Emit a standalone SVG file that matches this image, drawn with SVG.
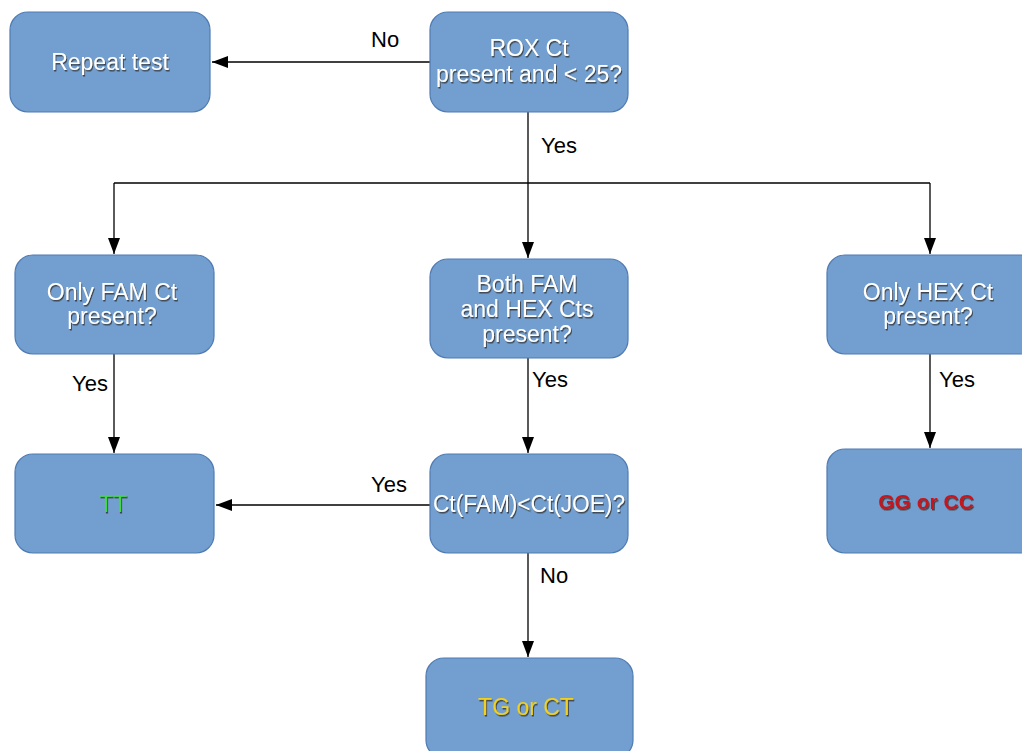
<svg xmlns="http://www.w3.org/2000/svg" width="1022" height="751" viewBox="0 0 1022 751">
<defs>
<marker id="arr" markerWidth="16" markerHeight="12" refX="16" refY="6" orient="auto" markerUnits="userSpaceOnUse">
<path d="M0,0 L16,6 L0,12 Z" fill="#000"/>
</marker>
<filter id="sh" x="-10%" y="-10%" width="120%" height="130%">
<feDropShadow dx="1" dy="1.5" stdDeviation="0.4" flood-color="#333" flood-opacity="0.8"/>
</filter>
</defs>
<style>
.box{fill:#729fcf;stroke:#4f7bb3;stroke-width:1.2}
.t{font-family:"Liberation Sans",Arial,sans-serif;font-size:23px;fill:#fff;text-anchor:middle;filter:url(#sh)}
.lbl{font-family:"Liberation Sans",Arial,sans-serif;font-size:22px;fill:#000}
.c{stroke:#000;stroke-width:1.3;fill:none}
</style>
<rect width="1022" height="751" fill="#fff"/>
<g id="connectors">
<path class="c" d="M430,62 H212" marker-end="url(#arr)"/>
<path class="c" d="M528,112 V183"/>
<path class="c" d="M114,183 H930"/>
<path class="c" d="M114,183 V254" marker-end="url(#arr)"/>
<path class="c" d="M528,183 V258" marker-end="url(#arr)"/>
<path class="c" d="M930,183 V254" marker-end="url(#arr)"/>
<path class="c" d="M114,354 V453" marker-end="url(#arr)"/>
<path class="c" d="M528,358 V453" marker-end="url(#arr)"/>
<path class="c" d="M930,354 V448" marker-end="url(#arr)"/>
<path class="c" d="M430,505 H216" marker-end="url(#arr)"/>
<path class="c" d="M528,553 V657" marker-end="url(#arr)"/>
<text class="lbl" x="371" y="47">No</text>
<text class="lbl" x="541" y="153">Yes</text>
<text class="lbl" x="72" y="391">Yes</text>
<text class="lbl" x="532" y="387">Yes</text>
<text class="lbl" x="939" y="387">Yes</text>
<text class="lbl" x="371" y="492">Yes</text>
<text class="lbl" x="540" y="583">No</text>
</g>
<g id="repeat"><rect class="box" x="10" y="12" width="200" height="100" rx="18"/><text class="t" x="110" y="70">Repeat test</text></g>
<g id="rox"><rect class="box" x="430" y="12" width="198" height="100" rx="18"/><text class="t" x="529" y="56">ROX Ct</text><text class="t" x="529" y="82">present and &lt; 25?</text></g>
<g id="onlyfam"><rect class="box" x="15" y="255" width="199" height="99" rx="18"/><text class="t" x="112" y="300">Only FAM Ct</text><text class="t" x="112" y="324">present?</text></g>
<g id="both"><rect class="box" x="430" y="259" width="198" height="99" rx="18"/><text class="t" x="527" y="292">Both FAM</text><text class="t" x="527" y="317">and HEX Cts</text><text class="t" x="527" y="342">present?</text></g>
<g id="onlyhex"><rect class="box" x="827" y="255" width="210" height="99" rx="18"/><text class="t" x="928" y="300">Only HEX Ct</text><text class="t" x="928" y="324">present?</text></g>
<g id="tt"><rect class="box" x="15" y="454" width="199" height="99" rx="18"/><text class="t" x="113" y="512" style="fill:#44d844">TT</text></g>
<g id="ctcmp"><rect class="box" x="430" y="454" width="198" height="99" rx="18"/><text class="t" x="529" y="512" textLength="192" lengthAdjust="spacingAndGlyphs">Ct(FAM)&lt;Ct(JOE)?</text></g>
<g id="ggcc"><rect class="box" x="827" y="449" width="210" height="104" rx="18"/><text class="t" x="926" y="509" style="fill:#c4161c;font-weight:bold;font-size:21px">GG or CC</text></g>
<g id="tgct"><rect class="box" x="426" y="658" width="207" height="100" rx="18"/><text class="t" x="526" y="715" style="fill:#f0d020">TG or CT</text></g>
</svg>
